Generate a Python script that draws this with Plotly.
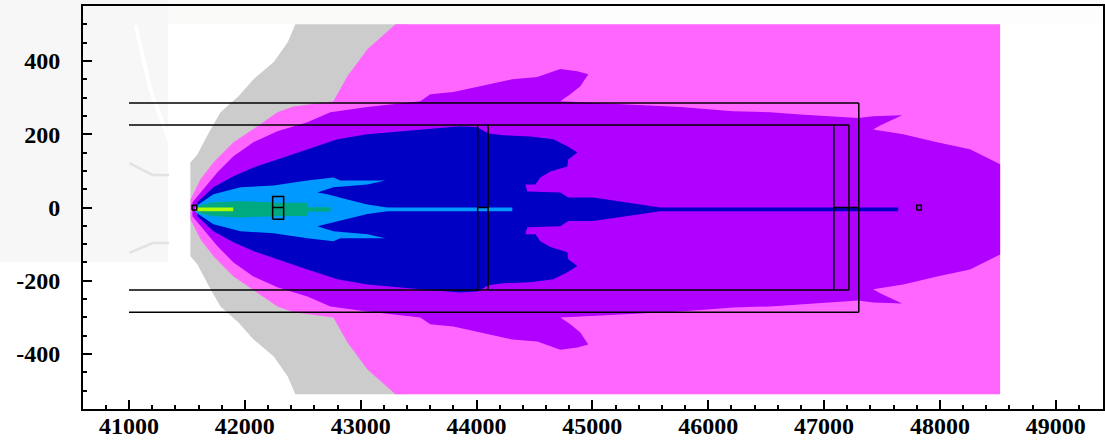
import plotly.graph_objects as go

x_ticks = [41000, 42000, 43000, 44000, 45000, 46000, 47000, 48000, 49000]
x_labels = ["41000", "42000", "43000", "44000", "45000", "46000", "47000", "48000", "49000"]
y_ticks = [-400, -200, 0, 200, 400]
y_labels = ["-400", "-200", "0", "200", "400"]

white_x = [41345, 42500]
white_y = [500, 500]
gray_x = [41530, 41530, 41590, 41690, 41790, 41945, 42075, 42250, 42370, 42436, 43400]
gray_y = [0, 123, 145, 205, 260, 304, 350, 397, 451, 500, 500]
magenta_x = [41531, 41617, 41729, 41902, 42109, 42281, 42419, 42764, 42885, 43058, 43300, 48520]
magenta_y = [22, 77, 123, 178, 222, 260, 276, 290, 358, 432, 500, 500]
purple_x = [41548, 41643, 41764, 41902, 42074, 42281, 42540, 42739, 43058, 43515, 43601, 43800, 44033, 44309,
            44525, 44723, 44870, 44965, 44896, 44810, 44723, 45241, 45759, 46216, 46535, 46794, 47294, 47424,
            47674, 47484, 47424, 47683, 47976, 48260, 48520]
purple_y = [14, 49, 96, 140, 178, 208, 233, 260, 274, 290, 309, 315, 331, 350,
            356, 378, 372, 364, 331, 309, 290, 282, 274, 263, 260, 254, 244, 249,
            252, 224, 213, 200, 178, 159, 118]
blue_x = [41591, 41729, 41902, 42074, 42281, 42540, 42799, 43058, 43515, 43662, 43860, 44007, 44102, 44231,
          44464, 44663, 44784, 44870, 44792, 44784, 44637, 44551, 44508, 44421, 44439, 44723, 44792, 45008,
          45267, 45474, 45586, 47640]
blue_y = [14, 55, 85, 109, 131, 159, 186, 200, 213, 216, 222, 219, 202, 197,
          194, 186, 167, 150, 131, 112, 98, 82, 63, 63, 44, 41, 27, 27,
          14, 5, 0, 0]
sky_x = [41574, 41729, 41962, 42247, 42540, 42764, 42825, 43213, 43058, 42764, 42626, 42712, 42885, 43058, 43230, 44309]
sky_y = [3, 36, 55, 60, 74, 82, 74, 74, 63, 55, 41, 36, 22, 8, 0, 0]
green_x = [41600, 41730, 41960, 42310, 42540, 42540, 42740]
green_y = [5, 14, 17, 13, 13, 1, 1]
lime_x = [41574, 41900]
lime_y = [0, 0]

axis_of_symmetry = -5

# faint background marks
stripe_x = [41056, 41186, 41315, 41427]
stripe_y = [498, 320, 211, 116]
curve_up_x = [41004, 41203, 41375, 41461]
curve_up_y = [121, 89, 89, 97]
curve_dn_x = [41004, 41203, 41375, 41461]
curve_dn_y = [-124, -97, -97, -108]

# instrument outlines: start/end pairs
h_x0 = [41000, 41000, 41000, 41000, 44010, 47085, 42240]
h_x1 = [47300, 47300, 47215, 47215, 44100, 47300, 42335]
h_y = [285, -286, 225, -225, 0, 0, 0]
v_x = [44010, 44100, 47085, 47215, 47300]
v_y0 = [225, 225, 225, 225, 285]
v_y1 = [-225, -225, -225, -225, -286]
box_x0 = [41545, 42240, 47800]
box_x1 = [41585, 42335, 47840]
box_y0 = [-7, -32, -7]
box_y1 = [6, 30, 6]


def closed(xs, ys):
    back_x = list(reversed(xs))
    back_y = [2 * axis_of_symmetry - y for y in reversed(ys)]
    return list(xs) + back_x, list(ys) + back_y


fig = go.Figure()

for xs, ys, col, w in [
    (curve_up_x, curve_up_y, "#e2e2e2", 2.5),
    (curve_dn_x, curve_dn_y, "#e2e2e2", 2.5),
    (stripe_x, stripe_y, "#ffffff", 4),
]:
    fig.add_trace(go.Scatter(x=xs, y=ys, mode="lines", line=dict(color=col, width=w),
                             hoverinfo="skip", showlegend=False))

for xs, ys, col in [
    (white_x, white_y, "#ffffff"),
    (gray_x, gray_y, "#cccccc"),
    (magenta_x, magenta_y, "#ff66ff"),
    (purple_x, purple_y, "#b000ff"),
    (blue_x, blue_y, "#0000c4"),
    (sky_x, sky_y, "#0099ff"),
    (green_x, green_y, "#00aa80"),
    (lime_x, lime_y, "#aaff00"),
]:
    px, py = closed(xs, ys)
    fig.add_trace(go.Scatter(x=px, y=py, mode="lines", fill="toself", fillcolor=col,
                             line=dict(width=0), hoverinfo="skip", showlegend=False))

lx, ly = [], []
for a, b, y in zip(h_x0, h_x1, h_y):
    lx += [a, b, None]
    ly += [y, y, None]
for x, a, b in zip(v_x, v_y0, v_y1):
    lx += [x, x, None]
    ly += [a, b, None]
for a, b, c, d in zip(box_x0, box_x1, box_y0, box_y1):
    lx += [a, b, b, a, a, None]
    ly += [c, c, d, d, c, None]
fig.add_trace(go.Scatter(x=lx, y=ly, mode="lines", line=dict(color="#000000", width=1.5),
                         hoverinfo="skip", showlegend=False))

font = dict(family="Liberation Serif", size=24, color="#000000", weight=700)
common = dict(showgrid=False, zeroline=False, showline=True, linecolor="#000000", linewidth=2,
              mirror=True, ticks="inside", tickcolor="#000000", tickwidth=1.5, ticklen=9,
              tickfont=font, automargin=False)
fig.update_xaxes(range=[40603, 49408], tickvals=x_ticks, ticktext=x_labels, ticklabelstandoff=-6,
                 minor=dict(dtick=200, tick0=41000, ticks="inside", ticklen=4, tickwidth=1.5, tickcolor="#000000"),
                 **common)
fig.update_yaxes(range=[-550, 550], tickvals=y_ticks, ticktext=y_labels, ticklabelstandoff=16,
                 minor=dict(dtick=50, tick0=0, ticks="inside", ticklen=4, tickwidth=1.5, tickcolor="#000000"),
                 **common)

L, T, W, H = 83, 6, 1020, 403
tint = [
    (0, 0, 168, 262, "#f7f7f7"),
    (168, 0, 560, 24, "#fafaf8"),
    (560, 0, 1105, 24, "#fdfdfd"),
]
shapes = [dict(type="rect", xref="paper", yref="paper", layer="below", line=dict(width=0), fillcolor=c,
               x0=(a - L) / W, x1=(b - L) / W, y0=1 - (d - T) / H, y1=1 - (e - T) / H)
          for a, e, b, d, c in tint]

fig.update_layout(width=1105, height=441, margin=dict(l=L, r=2, t=T, b=32),
                  paper_bgcolor="#ffffff", plot_bgcolor="rgba(0,0,0,0)", showlegend=False, shapes=shapes)
fig.write_html("out.html", config={"displayModeBar": False}, post_script="document.body.style.margin='0';")
